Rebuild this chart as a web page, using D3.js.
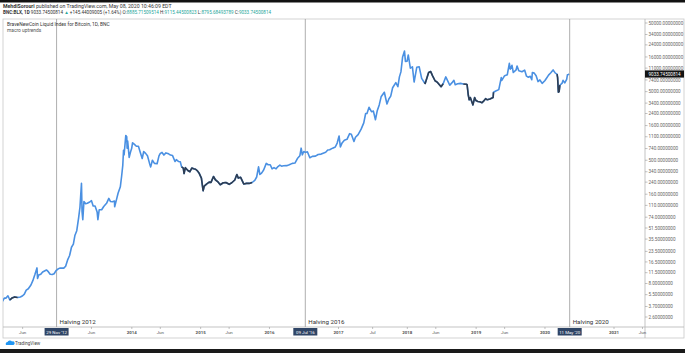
<!DOCTYPE html>
<html>
<head>
<meta charset="utf-8">
<script src="https://cdn.jsdelivr.net/npm/d3@7"></script>
<style>
    body { margin: 0; background: #fff; }
    svg { display: block; font-family: Roboto, "Noto Sans", sans-serif; }
</style>
</head>
<body>
<div id="chart"></div>
<script>
var dates = [
    '2012-02-15','2012-02-25','2012-03-05','2012-03-15','2012-03-25','2012-04-05','2012-04-20','2012-05-05','2012-05-20','2012-06-01',
    '2012-06-10','2012-06-20','2012-07-01','2012-07-15','2012-07-25','2012-08-05','2012-08-16','2012-08-19','2012-08-25','2012-09-05',
    '2012-09-15','2012-09-25','2012-10-05','2012-10-15','2012-10-25','2012-11-05','2012-11-15','2012-11-25','2012-12-05','2012-12-15',
    '2012-12-25','2013-01-05','2013-01-15','2013-01-25','2013-02-05','2013-02-15','2013-02-25','2013-03-05','2013-03-15','2013-03-25',
    '2013-04-01','2013-04-09','2013-04-12','2013-04-16','2013-04-22','2013-05-01','2013-05-10','2013-05-20','2013-06-01','2013-06-10',
    '2013-06-20','2013-07-01','2013-07-05','2013-07-12','2013-07-25','2013-08-05','2013-08-20','2013-09-01','2013-09-10','2013-09-20',
    '2013-10-01','2013-10-02','2013-10-10','2013-10-20','2013-11-01','2013-11-08','2013-11-14','2013-11-18','2013-11-21','2013-11-30',
    '2013-12-05','2013-12-07','2013-12-10','2013-12-18','2013-12-25','2013-12-31',
    '2014-01-05','2014-01-15','2014-01-25','2014-02-05','2014-02-15','2014-02-25','2014-03-05','2014-03-15','2014-03-25','2014-04-05',
    '2014-04-11','2014-04-20','2014-05-01','2014-05-15','2014-05-25','2014-06-01','2014-06-10','2014-06-20','2014-07-01','2014-07-15',
    '2014-07-25','2014-08-05','2014-08-18','2014-08-25','2014-09-05','2014-09-15','2014-09-22','2014-10-01','2014-10-05','2014-10-12',
    '2014-10-25','2014-11-05','2014-11-15','2014-11-25','2014-12-05','2014-12-15','2014-12-25',
    '2015-01-05','2015-01-14','2015-01-20','2015-02-01','2015-02-15','2015-02-25','2015-03-10','2015-03-20','2015-04-01','2015-04-15',
    '2015-05-01','2015-05-15','2015-06-01','2015-06-15','2015-07-01','2015-07-12','2015-07-20','2015-08-01','2015-08-18','2015-09-01',
    '2015-09-15','2015-10-01','2015-10-15','2015-10-25','2015-11-04','2015-11-11','2015-11-20','2015-12-01','2015-12-15','2015-12-25',
    '2016-01-05','2016-01-15','2016-01-25','2016-02-05','2016-02-15','2016-02-25','2016-03-05','2016-03-15','2016-04-01','2016-04-15',
    '2016-05-01','2016-05-15','2016-05-28','2016-06-10','2016-06-17','2016-06-23','2016-07-01','2016-07-09','2016-07-20','2016-08-02',
    '2016-08-15','2016-09-01','2016-09-15','2016-10-01','2016-10-15','2016-10-25','2016-11-05','2016-11-15','2016-12-01','2016-12-15',
    '2016-12-25','2017-01-04','2017-01-11','2017-01-20','2017-02-01','2017-02-15','2017-03-01','2017-03-10','2017-03-24','2017-04-01',
    '2017-04-15','2017-05-01','2017-05-15','2017-05-25','2017-06-01','2017-06-12','2017-06-25','2017-07-05','2017-07-16','2017-07-25',
    '2017-08-05','2017-08-15','2017-09-01','2017-09-15','2017-09-25','2017-10-05','2017-10-15','2017-11-01','2017-11-12','2017-11-20',
    '2017-11-28','2017-12-07','2017-12-17','2017-12-22','2017-12-31',
    '2018-01-06','2018-01-17','2018-01-28','2018-02-06','2018-02-20','2018-03-05','2018-03-18','2018-04-01','2018-04-06','2018-04-24',
    '2018-05-05','2018-05-15','2018-05-28','2018-06-10','2018-06-29','2018-07-10','2018-07-24','2018-08-05','2018-08-14','2018-08-25',
    '2018-09-05','2018-09-12','2018-09-25','2018-10-10','2018-10-25','2018-11-10','2018-11-14','2018-11-20','2018-11-25','2018-12-01',
    '2018-12-15','2018-12-24','2018-12-31',
    '2019-01-10','2019-01-20','2019-02-01','2019-02-08','2019-02-20','2019-03-01','2019-03-15','2019-04-01','2019-04-03','2019-04-15',
    '2019-05-01','2019-05-14','2019-05-17','2019-06-01','2019-06-15','2019-06-26','2019-07-01','2019-07-10','2019-07-17','2019-08-01',
    '2019-08-06','2019-08-15','2019-09-01','2019-09-15','2019-09-25','2019-10-05','2019-10-15','2019-10-23','2019-10-26','2019-11-05',
    '2019-11-15','2019-11-25','2019-12-05','2019-12-17','2019-12-31',
    '2020-01-10','2020-01-20','2020-02-01','2020-02-13','2020-02-25','2020-03-05','2020-03-08','2020-03-12','2020-03-16','2020-03-20',
    '2020-04-01','2020-04-06','2020-04-15','2020-04-25','2020-04-29','2020-05-05','2020-05-08'
];
var prices = [
    4.4, 4.9, 4.9, 5.3, 4.6, 4.9, 5.1, 5.0, 5.1, 5.3,
    5.6, 6.4, 6.7, 7.6, 8.8, 10.8, 13.5, 9.5, 10.6, 10.9,
    11.8, 12.2, 12.6, 11.9, 10.9, 10.8, 11.1, 12.3, 13.0, 13.4,
    13.4, 13.4, 14.3, 17.5, 20.5, 27, 30, 40, 47, 73,
    104, 230, 90, 68, 125, 116, 118, 122, 129, 108,
    108, 88, 68, 95, 95, 106, 118, 139, 125, 124,
    127, 105, 128, 165, 205, 295, 420, 700, 600, 1150,
    1100, 750, 950, 550, 660, 740,
    900, 850, 800, 800, 650, 530, 670, 630, 580, 450,
    400, 500, 450, 445, 580, 630, 650, 595, 640, 620,
    595, 585, 480, 510, 480, 475, 400, 385, 320, 390,
    355, 340, 385, 375, 370, 350, 320,
    275, 180, 210, 225, 240, 238, 290, 260, 245, 220,
    235, 237, 223, 235, 258, 310, 275, 282, 225, 230,
    230, 237, 255, 285, 400, 310, 325, 360, 450, 430,
    430, 375, 390, 375, 405, 425, 410, 415, 417, 430,
    450, 455, 530, 580, 750, 600, 670, 650, 665, 545,
    570, 575, 607, 615, 640, 655, 705, 710, 750, 780,
    890, 1130, 780, 895, 980, 1010, 1220, 1200, 940, 1080,
    1180, 1420, 1750, 2400, 2400, 2950, 2550, 2600, 1950, 2600,
    3200, 4200, 4900, 3300, 3900, 4300, 5700, 6750, 5900, 8200,
    9700, 16000, 19500, 13800, 13900,
    17100, 11000, 11500, 6900, 11300, 11500, 7800, 6800, 6600, 9500,
    9800, 8500, 7200, 6800, 5900, 6500, 8200, 7000, 6200, 6700,
    7300, 6300, 6500, 6600, 6450, 6400, 6300, 4500, 3800, 4100,
    3200, 4100, 3700,
    3600, 3550, 3450, 3600, 3950, 3800, 3900, 4100, 4900, 5100,
    5350, 8000, 7300, 8550, 8800, 12900, 10600, 12100, 9500, 10400,
    11800, 10100, 9750, 10300, 8400, 8100, 8350, 7450, 9500, 9300,
    8500, 7000, 7400, 6600, 7200,
    7900, 8700, 9400, 10350, 9300, 9000, 8000, 4900, 5000, 6200,
    6650, 7300, 6700, 7550, 8800, 8900, 9033.745
];

// periods drawn in the dark colour by the "macro uptrends" script
var darkFrom = ['2012-03-20', '2014-09-22', '2018-04-01', '2018-10-25', '2020-03-05'];
var darkTo = ['2012-05-10', '2015-10-10', '2018-07-15', '2019-04-03', '2020-03-20'];

var priceTicks = [2.6, 3.7, 5.5, 8, 11.5, 16.5, 23.5, 35.5, 51.5, 74, 110, 160, 240, 340, 500, 740,
    1100, 1600, 2400, 3400, 5000, 7400, 11000, 16000, 24000, 34000, 50000];
var timeTicks = ['2012-06-01', '2013-06-01', '2014-01-01', '2014-06-01', '2015-01-01', '2015-06-01',
    '2016-01-01', '2017-01-01', '2017-07-01', '2018-01-01', '2018-06-01', '2019-01-01', '2019-06-01',
    '2020-01-01', '2021-01-01', '2021-06-01'];
var halvingDates = ['2012-11-28', '2016-07-09', '2020-05-11'];
var halvingBadges = ["29 Nov '12", "09 Jul '16", "11 May '20"];
var halvingNames = ['Halving 2012', 'Halving 2016', 'Halving 2020'];
var lastPrice = 9033.74500814;

var W = 685, H = 353;
var pLeft = 3, pRight = 645, pTop = 19, pBottom = 327;
var parse = d3.timeParse('%Y-%m-%d');

var svg = d3.select('#chart').append('svg')
    .attr('width', W)
    .attr('height', H);

svg.append('rect').attr('width', W).attr('height', H).attr('fill', '#fff');

var x = d3.scaleTime()
    .domain([parse('2013-01-01'), parse('2021-01-01')])
    .range([63, 614]);

var y = d3.scaleLog()
    .domain([2.6, 50000])
    .range([317, 23]);

var data = dates.map(function (d, i) {
    return {date: parse(d), price: prices[i]};
});

// frame
svg.append('rect')
    .attr('x', pLeft).attr('y', pTop)
    .attr('width', 681).attr('height', 338 - pTop)
    .attr('fill', 'none').attr('stroke', '#c8c8c8').attr('stroke-width', 0.8);
svg.append('line')
    .attr('x1', pRight).attr('x2', pRight).attr('y1', pTop).attr('y2', 338)
    .attr('stroke', '#b4b4b4').attr('stroke-width', 0.8);
svg.append('line')
    .attr('x1', pLeft).attr('x2', 684).attr('y1', pBottom).attr('y2', pBottom)
    .attr('stroke', '#b4b4b4').attr('stroke-width', 0.8);

svg.append('defs').append('clipPath').attr('id', 'plot')
    .append('rect').attr('x', pLeft).attr('y', pTop).attr('width', pRight - pLeft).attr('height', pBottom - pTop);

var plot = svg.append('g').attr('clip-path', 'url(#plot)');

// halving lines
plot.selectAll('.halving')
    .data(halvingDates)
    .enter()
    .append('line')
    .attr('x1', function (d) { return x(parse(d)); })
    .attr('x2', function (d) { return x(parse(d)); })
    .attr('y1', pTop).attr('y2', pBottom)
    .attr('stroke', '#9a9a9a').attr('stroke-width', 0.8);

plot.selectAll('.hname')
    .data(halvingNames)
    .enter()
    .append('text')
    .attr('x', function (d, i) { return x(parse(halvingDates[i])) + 3; })
    .attr('y', 324)
    .attr('font-size', 6.2)
    .attr('fill', '#333')
    .text(function (d) { return d; });

var line = d3.line()
    .x(function (d) { return x(d.date); })
    .y(function (d) { return y(d.price); });

plot.append('path')
    .datum(data)
    .attr('fill', 'none')
    .attr('stroke', '#4a90e2')
    .attr('stroke-width', 1.6)
    .attr('stroke-linejoin', 'round')
    .attr('d', line);

darkFrom.forEach(function (f, i) {
    var a = parse(f), b = parse(darkTo[i]);
    var seg = data.filter(function (d) { return d.date >= a && d.date <= b; });
    plot.append('path')
        .datum(seg)
        .attr('fill', 'none')
        .attr('stroke', '#2e3d52')
        .attr('stroke-width', 1.6)
        .attr('stroke-linejoin', 'round')
        .attr('d', line);
});

// price scale
var yAxis = svg.append('g').attr('font-size', 4.6).attr('fill', '#666');
priceTicks.forEach(function (t) {
    yAxis.append('line')
        .attr('x1', pRight).attr('x2', pRight + 2.5)
        .attr('y1', y(t)).attr('y2', y(t))
        .attr('stroke', '#999').attr('stroke-width', 0.6);
    yAxis.append('text')
        .attr('x', pRight + 3.5).attr('y', y(t))
        .attr('dy', '0.35em')
        .text(t.toFixed(8));
});

svg.append('rect')
    .attr('x', pRight).attr('y', y(lastPrice) - 3.6)
    .attr('width', 39).attr('height', 7.2)
    .attr('fill', '#131313');
svg.append('text')
    .attr('x', pRight + 3.5).attr('y', y(lastPrice))
    .attr('dy', '0.35em')
    .attr('font-size', 4.6).attr('fill', '#fff')
    .text(lastPrice.toFixed(8));

// time scale
var fmt = function (d) {
    return d.getMonth() === 0 ? d3.timeFormat('%Y')(d) : d3.timeFormat('%b')(d);
};
var xAxis = svg.append('g').attr('font-size', 4.4).attr('fill', '#555').attr('text-anchor', 'middle');
timeTicks.forEach(function (t) {
    var px = x(parse(t));
    xAxis.append('line')
        .attr('x1', px).attr('x2', px).attr('y1', pBottom).attr('y2', pBottom + 2)
        .attr('stroke', '#999').attr('stroke-width', 0.6);
    xAxis.append('text')
        .attr('x', px).attr('y', 333.5)
        .attr('font-weight', fmt(parse(t)).length === 4 ? 'bold' : 'normal')
        .text(fmt(parse(t)));
});

halvingDates.forEach(function (d, i) {
    var px = x(parse(d));
    svg.append('rect')
        .attr('x', px - 12).attr('y', 328)
        .attr('width', 24).attr('height', 7.5)
        .attr('fill', '#2f4566');
    svg.append('text')
        .attr('x', px).attr('y', 333.5)
        .attr('text-anchor', 'middle')
        .attr('font-size', 4.4).attr('fill', '#fff')
        .text(halvingBadges[i]);
});

// header
var head = svg.append('g').attr('fill', '#333');
var l1 = head.append('text').attr('x', 3).attr('y', 7.5).attr('font-size', 5.2);
l1.append('tspan').attr('font-weight', 'bold').text('MehdiSorouri');
l1.append('tspan').text(' published on TradingView.com, May 08, 2020 10:46:09 EDT');

var l2 = head.append('text').attr('x', 3).attr('y', 14).attr('font-size', 4.6);
l2.append('tspan').attr('font-weight', 'bold').text('BNC:BLX, 1D');
l2.append('tspan').text(' 9033.74500814 ');
l2.append('tspan').attr('fill', '#26a69a').text('\u25B2');
l2.append('tspan').text(' +145.44009005 (+1.64%) O:');
l2.append('tspan').attr('fill', '#26a69a').text('8885.71509514');
l2.append('tspan').text(' H:');
l2.append('tspan').attr('fill', '#26a69a').text('9115.44500823');
l2.append('tspan').text(' L:');
l2.append('tspan').attr('fill', '#26a69a').text('8795.68493789');
l2.append('tspan').text(' C:');
l2.append('tspan').attr('fill', '#26a69a').text('9033.74500814');

svg.append('text').attr('x', 7).attr('y', 26)
    .attr('font-size', 4.9).attr('fill', '#333')
    .text('BraveNewCoin Liquid Index for Bitcoin, 1D, BNC');
svg.append('text').attr('x', 7).attr('y', 32)
    .attr('font-size', 4.9).attr('fill', '#555')
    .text('macro uptrends');

// footer logo
var logo = svg.append('g').attr('transform', 'translate(5,340)');
logo.append('path')
    .attr('d', 'M1,5 a2,2 0 0 1 1.5,-3 a2.6,2.6 0 0 1 4.5,-0.5 a1.8,1.8 0 0 1 1.5,3.5 z')
    .attr('fill', '#2196f3');
logo.append('text').attr('x', 10).attr('y', 4.8)
    .attr('font-size', 4.6).attr('fill', '#444')
    .text('TradingView');

// dark bands of the screenshot
svg.append('rect').attr('x', 0).attr('y', 0).attr('width', W).attr('height', 2.5).attr('fill', '#111');
svg.append('rect').attr('x', 0).attr('y', 349).attr('width', W).attr('height', 4).attr('fill', '#1a1a1a');
</script>
</body>
</html>
